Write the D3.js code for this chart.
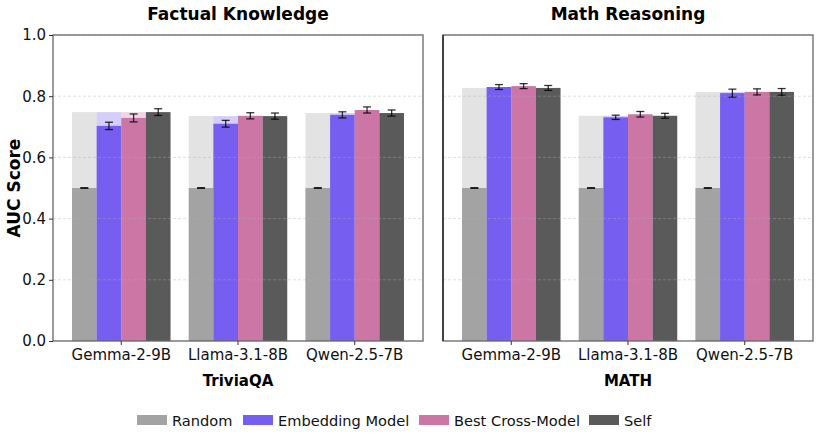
<!DOCTYPE html>
<html>
<head>
<meta charset="utf-8">
<script src="https://cdn.jsdelivr.net/npm/d3@7"></script>
<style>
  body { margin: 0; background: #fff; }
  svg { font-family: "DejaVu Sans", sans-serif; }
</style>
</head>
<body>
<div id="chart"></div>
<script>
// data
const models = ['Gemma-2-9B', 'Llama-3.1-8B', 'Qwen-2.5-7B'];
const series = ['Random', 'Embedding Model', 'Best Cross-Model', 'Self'];
const colors = ['#a3a3a3', '#765ef0', '#cb76a4', '#5b5a5a'];
const yTicks = [0.0, 0.2, 0.4, 0.6, 0.8, 1.0];

// values per model: [Random, Embedding, Best Cross, Self]
const triviaValues = [
  [0.500, 0.703, 0.729, 0.748],
  [0.500, 0.710, 0.736, 0.735],
  [0.500, 0.739, 0.755, 0.745]
];
const triviaErrors = [
  [0.001, 0.012, 0.013, 0.011],
  [0.001, 0.011, 0.010, 0.010],
  [0.001, 0.010, 0.010, 0.010]
];
const mathValues = [
  [0.500, 0.830, 0.833, 0.827],
  [0.500, 0.731, 0.741, 0.736],
  [0.500, 0.810, 0.814, 0.814]
];
const mathErrors = [
  [0.001, 0.008, 0.008, 0.008],
  [0.001, 0.007, 0.009, 0.008],
  [0.001, 0.013, 0.010, 0.011]
];

const panels = [
  { title: 'Factual Knowledge', xlabel: 'TriviaQA', values: triviaValues, errors: triviaErrors, left: 53, yAxis: true },
  { title: 'Math Reasoning', xlabel: 'MATH', values: mathValues, errors: mathErrors, left: 443, yAxis: false }
];

const width = 820, height = 435;
const marginTop = 35, plotH = 306, plotW = 370;

const svg = d3.select('#chart').append('svg')
  .attr('width', width)
  .attr('height', height);

const y = d3.scaleLinear().domain([0, 1]).range([plotH, 0]);

const x0 = d3.scaleBand()
  .domain(models)
  .range([0, plotW])
  .paddingInner(0.156)
  .paddingOuter(0.163);

const x1 = d3.scaleBand()
  .domain(series)
  .range([0, x0.bandwidth()]);

panels.forEach(p => {
  const g = svg.append('g').attr('transform', 'translate(' + p.left + ',' + marginTop + ')');

  const groups = g.selectAll('.grp')
    .data(models)
    .enter()
    .append('g')
    .attr('transform', d => 'translate(' + x0(d) + ',0)');

  // faded bars up to the Self score
  groups.each(function (m, i) {
    const self = p.values[i][3];
    d3.select(this).selectAll('.bg')
      .data(series.slice(0, 3))
      .enter()
      .append('rect')
      .attr('x', s => x1(s))
      .attr('y', y(self))
      .attr('width', x1.bandwidth())
      .attr('height', plotH - y(self))
      .attr('fill', (s, j) => colors[j])
      .attr('opacity', 0.3);
  });

  // main bars
  groups.each(function (m, i) {
    const sel = d3.select(this);
    sel.selectAll('.bar')
      .data(series)
      .enter()
      .append('rect')
      .attr('x', s => x1(s))
      .attr('y', (s, j) => y(p.values[i][j]))
      .attr('width', x1.bandwidth())
      .attr('height', (s, j) => plotH - y(p.values[i][j]))
      .attr('fill', (s, j) => colors[j]);

    // error bars
    series.forEach((s, j) => {
      const cx = x1(s) + x1.bandwidth() / 2;
      const v = p.values[i][j], e = p.errors[i][j];
      const eg = sel.append('g')
        .attr('stroke', '#000')
        .attr('stroke-opacity', 0.8)
        .attr('stroke-width', 1.3);
      eg.append('line').attr('x1', cx).attr('x2', cx).attr('y1', y(v - e)).attr('y2', y(v + e));
      eg.append('line').attr('x1', cx - 4).attr('x2', cx + 4).attr('y1', y(v - e)).attr('y2', y(v - e));
      eg.append('line').attr('x1', cx - 4).attr('x2', cx + 4).attr('y1', y(v + e)).attr('y2', y(v + e));
    });
  });

  // grid lines on top
  g.selectAll('.grid')
    .data(yTicks.slice(1))
    .enter()
    .append('line')
    .attr('x1', 0)
    .attr('x2', plotW)
    .attr('y1', d => y(d))
    .attr('y2', d => y(d))
    .attr('stroke', '#b0b0b0')
    .attr('stroke-opacity', 0.5)
    .attr('stroke-dasharray', '3,2')
    .attr('stroke-width', 0.8);

  // frame
  g.append('rect')
    .attr('x', 0).attr('y', 0)
    .attr('width', plotW).attr('height', plotH)
    .attr('fill', 'none')
    .attr('stroke', '#666')
    .attr('stroke-width', 1.3);
  if (!p.yAxis) {
    g.append('line')
      .attr('x1', 0).attr('x2', 0).attr('y1', 0).attr('y2', plotH)
      .attr('stroke', '#111').attr('stroke-width', 1.3);
  }

  // x axis
  const xa = g.append('g')
    .attr('transform', 'translate(0,' + plotH + ')')
    .call(d3.axisBottom(x0).tickSize(4).tickPadding(4));
  xa.select('.domain').remove();
  xa.selectAll('line').attr('stroke', '#333');
  xa.selectAll('text').attr('font-size', 15).attr('fill', '#111').attr('font-family', '"DejaVu Sans", sans-serif');

  // y axis
  if (p.yAxis) {
    const ya = g.append('g')
      .call(d3.axisLeft(y).tickValues(yTicks).tickFormat(d3.format('.1f')).tickSize(4).tickPadding(3));
    ya.select('.domain').remove();
    ya.selectAll('line').attr('stroke', '#333');
    ya.selectAll('text').attr('font-size', 15).attr('fill', '#111').attr('font-family', '"DejaVu Sans", sans-serif');
  }

  g.append('text')
    .attr('x', plotW / 2)
    .attr('y', -15)
    .attr('text-anchor', 'middle')
    .attr('font-size', 17)
    .attr('font-weight', 'bold')
    .text(p.title);

  g.append('text')
    .attr('x', plotW / 2)
    .attr('y', plotH + 45)
    .attr('text-anchor', 'middle')
    .attr('font-size', 15)
    .attr('font-weight', 'bold')
    .text(p.xlabel);
});

svg.append('text')
  .attr('transform', 'translate(20,' + (marginTop + plotH / 2) + ') rotate(-90)')
  .attr('text-anchor', 'middle')
  .attr('font-size', 17)
  .attr('font-weight', 'bold')
  .text('AUC Score');

// legend
const legendX = [137, 243, 419, 589];
const lg = svg.append('g').attr('transform', 'translate(0,420)');
series.forEach((s, i) => {
  lg.append('rect')
    .attr('x', legendX[i]).attr('y', -5)
    .attr('width', 30).attr('height', 10)
    .attr('fill', colors[i]);
  lg.append('text')
    .attr('x', legendX[i] + 35).attr('y', 5.5)
    .attr('font-size', 14.6)
    .attr('fill', '#111')
    .text(s);
});
</script>
</body>
</html>
